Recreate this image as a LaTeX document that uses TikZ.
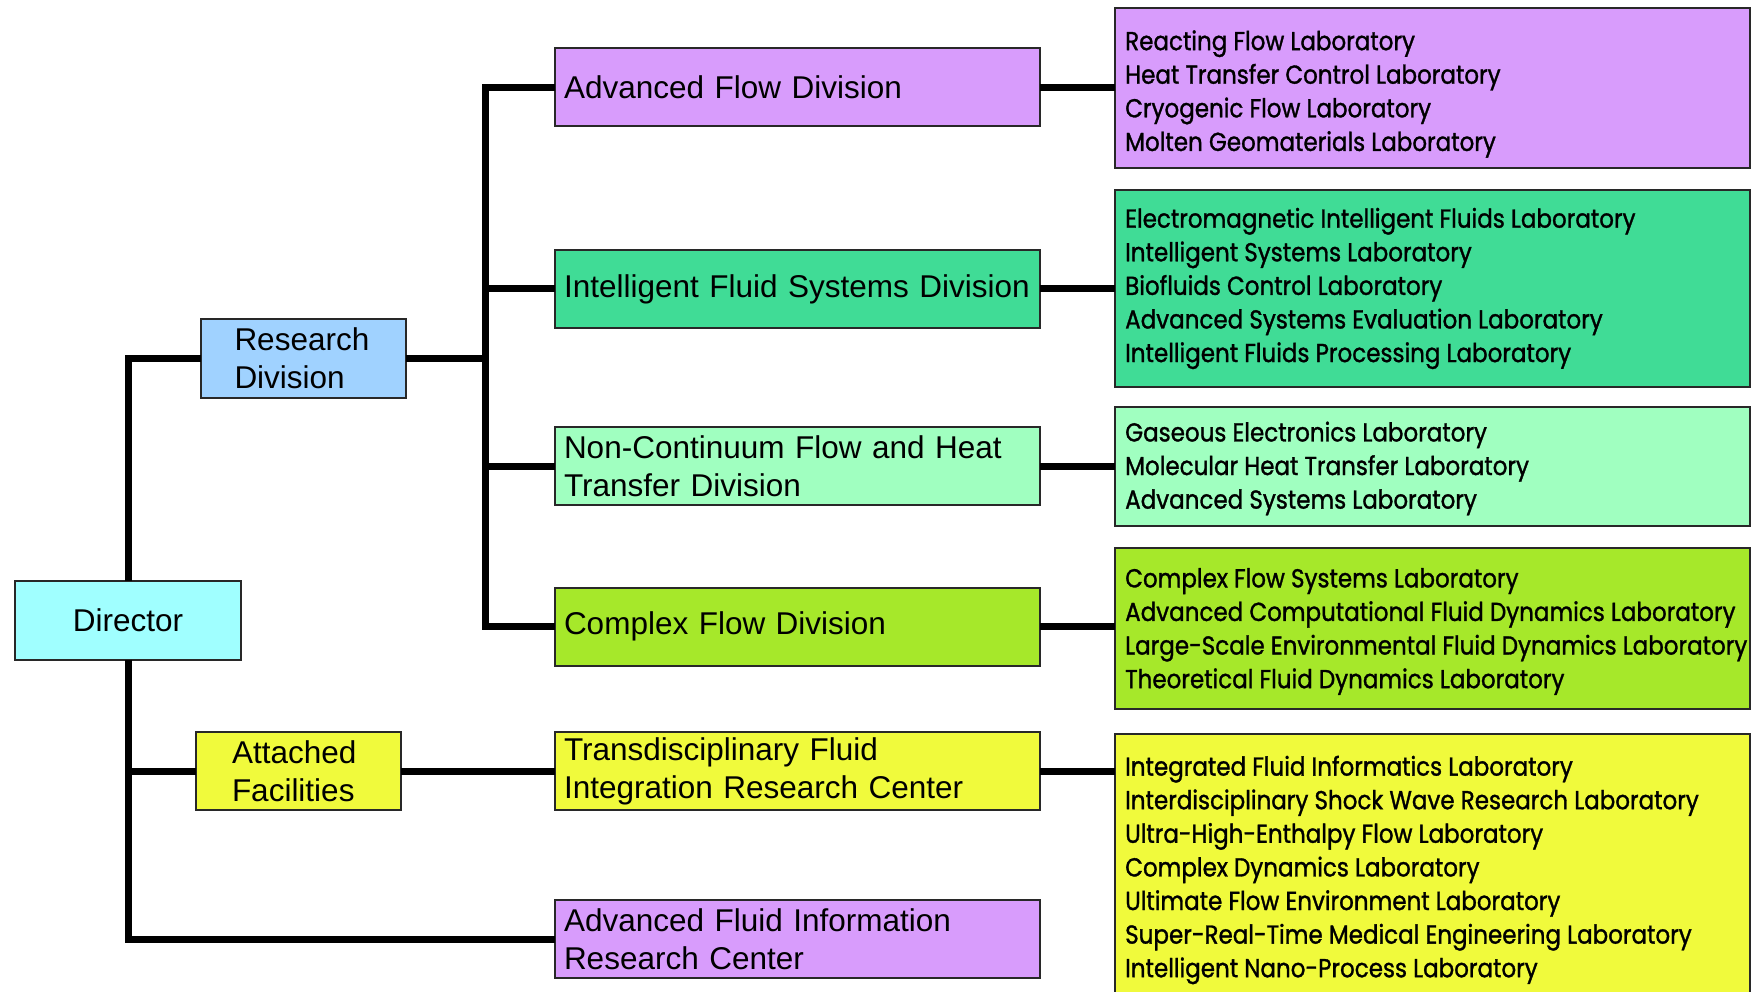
\documentclass[tikz,border=0pt]{standalone}
\usepackage{fontspec}
\setmainfont{Liberation Sans}
\newfontfamily\labfont[FakeStretch=0.885,FakeBold=1.2]{Poppins}
\usetikzlibrary{positioning}
\definecolor{cDir}{RGB}{160,255,255}
\definecolor{cRes}{RGB}{160,210,255}
\definecolor{cPur}{RGB}{216,156,252}
\definecolor{cGrn}{RGB}{64,220,150}
\definecolor{cLgr}{RGB}{160,255,192}
\definecolor{cYgr}{RGB}{166,232,42}
\definecolor{cYel}{RGB}{240,250,60}
\definecolor{cBrd}{RGB}{40,40,40}
\tikzset{
  box/.style={draw=cBrd, line width=2pt, rectangle, inner sep=0pt, outer sep=0pt,
    font=\fontsize{31.5}{38}\selectfont, align=left},
  divbox/.style={box, minimum width=485pt, minimum height=78pt, inner xsep=9pt, text width=467pt},
  labbox/.style={draw=cBrd, line width=2pt, rectangle, inner sep=0pt, outer sep=0pt, minimum width=635pt},
  labtext/.style={anchor=west, inner sep=0pt, align=left,
    font=\labfont\fontsize{26}{33.6}\selectfont},
  conn/.style={line width=7pt, line join=miter, black},
}
\begin{document}
\begin{tikzpicture}[x=1pt,y=-1pt]
\clip (0,0) rectangle (1757,992);
\fill[white] (0,0) rectangle (1757,992);
% left column
\node[box, fill=cDir, minimum width=226pt, minimum height=79pt, align=center] (dir) at (128,620) {Director};
\node[box, fill=cRes, minimum width=205pt, minimum height=79pt, text width=137pt] (rd) at (303,358.5) {Research\\Division};
\node[box, fill=cYel, minimum width=205pt, minimum height=78pt, text width=133pt] (af) at (298.5,771) {Attached\\Facilities};
% divisions
\node[divbox, fill=cPur] (afd) at (797.5,87.5) {Advanced Flow Division};
\node[divbox, fill=cGrn] (ifsd) at (797.5,289) {Intelligent Fluid Systems Division};
\node[divbox, fill=cLgr] (nc) at (797.5,466) {Non-Continuum Flow and Heat\\Transfer Division};
\node[divbox, fill=cYgr] (cfd) at (797.5,626.5) {Complex Flow Division};
\node[divbox, fill=cYel] (tf) at (797.5,771) {Transdisciplinary Fluid\\Integration Research Center};
\node[divbox, fill=cPur] (aif) at (797.5,939) {Advanced Fluid Information\\Research Center};
% labs
\node[labbox, fill=cPur, minimum height=160pt] (labA) at (1432.5,88) {};
\node[labtext] (labAt) at ([xshift=10pt,yshift=-6pt]labA.west) {Reacting Flow Laboratory\\Heat Transfer Control Laboratory\\Cryogenic Flow Laboratory\\Molten Geomaterials Laboratory};
\node[labbox, fill=cGrn, minimum height=197pt] (labB) at (1432.5,288.5) {};
\node[labtext] (labBt) at ([xshift=10pt]labB.west) {Electromagnetic Intelligent Fluids Laboratory\\Intelligent Systems Laboratory\\Biofluids Control Laboratory\\Advanced Systems Evaluation Laboratory\\Intelligent Fluids Processing Laboratory};
\node[labbox, fill=cLgr, minimum height=119pt] (labC) at (1432.5,466.5) {};
\node[labtext] (labCt) at ([xshift=10pt,yshift=-2pt]labC.west) {Gaseous Electronics Laboratory\\Molecular Heat Transfer Laboratory\\Advanced Systems Laboratory};
\node[labbox, fill=cYgr, minimum height=161pt] (labD) at (1432.5,628.5) {};
\node[labtext] (labDt) at ([xshift=10pt,yshift=-3pt]labD.west) {Complex Flow Systems Laboratory\\Advanced Computational Fluid Dynamics Laboratory\\Large-Scale Environmental Fluid Dynamics Laboratory\\Theoretical Fluid Dynamics Laboratory};
\node[labbox, fill=cYel, minimum height=266pt] (labE) at (1432.5,867) {};
\node[labtext] (labEt) at ([xshift=10pt,yshift=-3pt]labE.west) {Integrated Fluid Informatics Laboratory\\Interdisciplinary Shock Wave Research Laboratory\\Ultra-High-Enthalpy Flow Laboratory\\Complex Dynamics Laboratory\\Ultimate Flow Environment Laboratory\\Super-Real-Time Medical Engineering Laboratory\\Intelligent Nano-Process Laboratory};
% connectors
\coordinate (spR) at (485,358.5);
\draw[conn] (rd.west) -| (dir.north);
\draw[conn] (dir.south) |- (aif.west);
\draw[conn] (af.west) -- (af.west -| dir.south);
\draw[conn] (af.east) -- (tf.west);
\draw[conn] (rd.east) -- (spR);
\draw[conn] (afd.west) -| (spR |- cfd.west) -- (cfd.west);
\draw[conn] (ifsd.west) -- (ifsd.west -| spR);
\draw[conn] (nc.west) -- (nc.west -| spR);
\draw[conn] (afd.east) -- (afd.east -| labA.west);
\draw[conn] (ifsd.east) -- (ifsd.east -| labB.west);
\draw[conn] (nc.east) -- (nc.east -| labC.west);
\draw[conn] (cfd.east) -- (cfd.east -| labD.west);
\draw[conn] (tf.east) -- (tf.east -| labE.west);
\end{tikzpicture}
\end{document}
